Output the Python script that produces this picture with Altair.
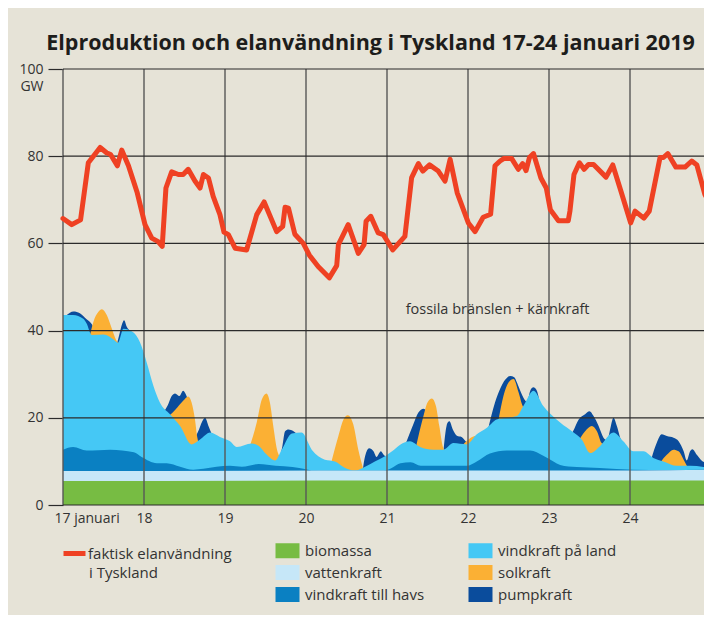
import altair as alt
import pandas as pd

FONT = "Open Sans"
TXT = "#333333"
BG = "#e6e3d7"
RED = "#ef4123"

title_text = "Elproduktion och elanvändning i Tyskland 17-24 januari 2019"
annotation_text = "fossila bränslen + kärnkraft"
demand_label = "faktisk elanvändning"
demand_label_2 = "i Tyskland"

day_ticks = [17, 18, 19, 20, 21, 22, 23, 24, 25]
gw_ticks = [0, 20, 40, 60, 80, 100]

# hours after 17 januari 00:00
demand_h = [0, 2.6, 5.2, 7.5, 9, 11, 12.9, 14.1, 16.1, 17.4, 19.4, 22, 24.3, 26.3, 28.2, 29.4,
            30.5, 32.2, 34.2, 35.6, 37.1, 39.1, 40.6, 41.6, 43.1, 44.5, 46.5, 47.7, 49, 51, 54.4,
            57.4, 59.6, 63.3, 65.1, 65.8, 66.8, 68.7, 71.2, 73, 75.6, 78.9, 81.1, 81.6, 84.5, 87.5,
            89.2, 89.8, 91.2, 93.4, 94.9, 97.7, 101.3, 103.3, 105.3, 106.6, 108.6, 111.2, 113.2,
            114.7, 116.8, 120.1, 122.1, 124.5, 126.7, 128, 129.5, 130.7, 132.9, 134.9, 136.2, 137.2,
            138.2, 139.4, 141.6, 143.2, 144.4, 146.8, 149.7, 150.2, 151.4, 153, 154.4, 155.7, 157.2,
            160.9, 162.9, 165.3, 168.2, 169.5, 172.1, 173.7, 176.9, 177.9, 179.2, 181.6, 184.3,
            186.3, 187.8, 190.2, 192]
demand_gw = [65.7, 64.3, 65.4, 78.5, 80.0, 82.0, 80.8, 80.4, 77.8, 81.4, 77.8, 71.6, 64.3, 61.2,
             60.4, 59.3, 72.7, 76.4, 75.8, 75.8, 77.0, 74.3, 72.7, 75.8, 75.0, 70.8, 66.6, 62.6,
             62.0, 58.9, 58.5, 66.6, 69.5, 62.7, 63.9, 68.3, 68.1, 62.1, 60.0, 57.3, 54.7, 52.1,
             54.9, 59.7, 64.3, 57.7, 59.7, 65.1, 66.2, 62.4, 62.0, 58.5, 61.6, 75.1, 78.3, 76.6,
             78.0, 76.6, 74.3, 79.3, 71.6, 64.7, 62.7, 66.0, 66.7, 77.8, 78.9, 79.5, 79.5, 77.0,
             78.3, 76.7, 79.7, 80.6, 75.0, 72.7, 67.7, 65.2, 65.2, 67.4, 75.8, 78.5, 77.0, 78.1,
             78.1, 75.2, 78.0, 72.0, 64.7, 67.4, 65.8, 67.4, 79.7, 79.7, 80.6, 77.5, 77.5, 78.9,
             78.0, 71.2, 68.8]

# cumulative upper edge (GW) of each layer
bio_h = [0, 96, 192]
bio_gw = [5.5, 5.6, 5.6]

hydro_h = [0, 96, 170, 192]
hydro_gw = [7.8, 7.9, 7.9, 8.1]

off_h = [0, 3, 7, 14, 21, 23.3, 27.8, 30.7, 34.7, 38.6, 41.6, 45.5, 49.5, 53, 58, 63, 68, 72, 74,
         95, 97.4, 100, 103, 106, 112, 119.6, 122.6, 126.5, 131.5, 138.4, 142.3, 145.3, 147.3,
         152.2, 159, 169, 179, 192]
off_gw = [12.7, 13.3, 12.5, 12.7, 12.1, 11.0, 9.6, 9.6, 8.8, 8.1, 8.3, 8.8, 9.0, 8.8, 9.4, 9.0,
          8.7, 8.2, 7.9, 7.9, 8.5, 9.6, 9.8, 9.0, 9.0, 9.0, 10.0, 11.8, 12.5, 12.5, 11.3, 10.0,
          9.2, 8.7, 8.5, 8.1, 8.0, 8.2]

on_h = [0, 3, 6, 7, 8.5, 12, 15.4, 16.3, 17.9, 20.8, 22.8, 24.8, 26.8, 28.7, 31.7, 34.7, 38.1,
        40.6, 43.6, 46.5, 49.5, 51.5, 55.9, 57.9, 60.4, 62.8, 64.8, 67.8, 70.7, 73.7, 77.6, 80.6,
        83.6, 86.5, 89.5, 92.4, 95.4, 97.5, 99.9, 102.8, 105.8, 109.7, 112.7, 115.7, 119.6,
        122.6, 125.6, 128.5, 131.5, 134.5, 136.4, 139.4, 142.3, 144.3, 147.3, 151.3, 153.7,
        156.2, 159.1, 163.1, 166, 169, 172, 174.9, 177.9, 181.9, 185.8, 189.8, 192]
on_gw = [43.6, 43.6, 42.7, 41.6, 39.0, 39.1, 37.7, 37.2, 40.4, 39.6, 37.3, 32.7, 27.3, 23.5, 20.8,
         18.1, 13.9, 15.0, 16.6, 15.6, 14.6, 13.3, 14.1, 13.6, 11.5, 10.2, 12.7, 16.4, 16.6, 12.7,
         10.4, 10.0, 8.5, 7.9, 8.8, 10.0, 11.2, 12.3, 13.8, 14.6, 13.3, 12.7, 12.7, 14.2, 13.9,
         16.2, 17.7, 19.6, 20.0, 20.4, 22.7, 26.2, 22.7, 21.0, 18.9, 16.6, 15.0, 11.9, 13.5,
         16.6, 14.6, 12.3, 12.3, 10.8, 10.0, 9.0, 9.0, 8.7, 8.2]

solar_episodes = [
    ([8.0, 9.0, 10.5, 11.5, 13.0, 14.4, 15.7, 16.4], [39.0, 42.0, 44.3, 44.9, 43.5, 40.6, 37.9, 37.0]),
    ([31.5, 33.2, 35.6, 37.1, 38.1, 39.1, 39.8, 40.5], [20.5, 21.8, 23.9, 24.9, 23.5, 19.6, 15.5, 13.5]),
    ([55.5, 57.4, 58.9, 60.3, 61.3, 62.3, 63.3, 64.4, 65.0], [13.8, 18.9, 24.2, 25.6, 23.5, 18.1, 13.1, 10.8, 10.0]),
    ([79.5, 81.6, 83.1, 84.4, 86.0, 87.5, 89.0], [9.8, 15.8, 19.6, 20.6, 18.5, 12.7, 8.1]),
    ([104.5, 106.8, 108.0, 109.3, 110.5, 111.5, 112.5, 113.2], [13.0, 20.4, 23.5, 24.4, 22.7, 18.1, 13.5, 12.5]),
    ([118.5, 120.8, 123.2], [13.8, 15.4, 16.0]),
    ([129.0, 130.5, 132.0, 133.5, 135.0, 136.2, 137.0], [19.4, 25.0, 28.1, 28.9, 25.8, 22.7, 22.0]),
    ([153.0, 154.7, 156.7, 158.2, 159.6, 160.6], [15.0, 16.9, 18.1, 16.9, 14.2, 13.8]),
    ([177.2, 178.9, 180.9, 182.4, 183.9, 185.0], [10.0, 11.5, 12.7, 12.3, 10.4, 8.8]),
]

pump_episodes = [
    ([1.0, 3.1, 5.0, 7.0, 8.5, 9.5], [43.5, 44.4, 44.0, 42.6, 41.5, 40.0]),
    ([16.0, 16.6, 17.5, 18.1, 18.9, 19.9, 20.8], [37.0, 38.8, 41.5, 42.4, 40.9, 39.9, 39.0]),
    ([30.0, 31.0, 32.2, 33.2, 34.5, 35.6, 36.6, 37.5], [21.5, 22.8, 25.0, 25.6, 25.0, 26.2, 25.0, 23.0]),
    ([39.5, 40.3, 41.1, 42.1, 43.1, 44.1], [16.0, 17.3, 18.9, 20.0, 18.1, 16.2]),
    ([64.3, 65.0, 65.8, 66.8, 68.3, 69.5], [11.0, 13.5, 16.9, 17.3, 16.9, 16.2]),
    ([88.8, 89.5, 90.7, 92.0, 92.9, 94.2, 95.0, 95.8], [8.0, 11.2, 13.0, 12.3, 11.0, 12.3, 11.5, 11.0]),
    ([101.5, 103.8, 105.3, 106.8, 107.8], [14.0, 18.5, 21.2, 22.1, 21.5]),
    ([112.8, 113.3, 113.9, 114.5, 115.5, 116.7, 118.1, 119.6, 120.5], [13.0, 16.5, 18.8, 19.2, 17.3, 15.9, 15.6, 14.4, 14.0]),
    ([126.0, 128.0, 129.5, 131.0, 132.5, 133.7, 134.5, 135.7, 137.0, 137.8], [17.6, 23.5, 26.6, 28.7, 29.6, 29.3, 28.1, 25.8, 23.9, 23.5]),
    ([137.8, 138.6, 139.4, 140.3, 141.4], [24.0, 26.5, 27.0, 26.4, 23.0]),
    ([150.5, 151.5, 152.8, 154.7, 156.0, 157.2, 158.7, 160.1, 161.2], [16.0, 17.5, 19.6, 20.8, 21.5, 20.4, 18.1, 15.5, 14.8]),
    ([161.5, 162.3, 163.1, 164.1, 165.3, 166.3], [15.0, 18.0, 20.0, 18.1, 15.0, 14.0]),
    ([174.4, 175.9, 177.4, 178.9, 180.9, 182.4, 183.9, 184.8, 185.8, 186.5, 187.8, 189.2, 190.7, 192.0],
     [10.8, 14.2, 16.2, 15.8, 15.4, 14.6, 12.3, 10.2, 12.3, 12.8, 11.5, 10.2, 9.6, 9.2]),
]

source_names = ["biomassa", "vattenkraft", "vindkraft till havs", "vindkraft på land", "solkraft", "pumpkraft"]
source_colors = ["#77bc43", "#c6e7f8", "#0a80c2", "#45c8f5", "#fbb034", "#0a4c9c"]

layer_series = {
    "biomassa": [(bio_h, bio_gw)],
    "vattenkraft": [(hydro_h, hydro_gw)],
    "vindkraft till havs": [(off_h, off_gw)],
    "vindkraft på land": [(on_h, on_gw)],
    "solkraft": solar_episodes,
    "pumpkraft": pump_episodes,
}

rows = []
for name, episodes in layer_series.items():
    for seg, (hs, vs) in enumerate(episodes):
        for h, v in zip(hs, vs):
            rows.append({"source": name, "seg": seg, "h": h, "gw": v})
gen = pd.DataFrame(rows)

dem = pd.DataFrame({"h": demand_h, "gw": demand_gw, "serie": demand_label})

PLOT_W = 641          # the page only shows up to about 24.9 januari
PX_PER_DAY = 81
xs = alt.Scale(domain=[17, 17 + PLOT_W / PX_PER_DAY], nice=False, zero=False)
ys = alt.Scale(domain=[0, 100], nice=False)

x_axis = alt.Axis(
    values=day_ticks, title=None, ticks=False, domain=False, grid=False,
    labelFont=FONT, labelFontSize=14, labelColor=TXT, labelPadding=6,
    labelFlush=False, labelOverlap=False,
    labelExpr="datum.value == 17 ? '17 januari' : datum.label",
    labelAlign={"condition": {"test": "datum.value == 17", "value": "left"}, "value": "center"},
    labelOffset={"condition": {"test": "datum.value == 17", "value": -9}, "value": 0},
)
y_axis = alt.Axis(
    values=gw_ticks, title="GW", titleAngle=0, titleX=-20, titleY=17.5, titleAlign="right",
    titleBaseline="middle", titleFont=FONT, titleFontSize=14, titleFontWeight="normal",
    titleColor=TXT, ticks=True, tickSize=15, tickColor="#2b2b2b", tickWidth=1.2,
    domain=False, grid=False, labelFont=FONT, labelFontSize=14, labelColor=TXT, labelPadding=5,
)

fill_legend = alt.Legend(
    title=None, orient="none", legendX=217, legendY=474, columns=2, padding=0,
    symbolType="M-1.6,-1H1.6V1H-1.6Z", symbolSize=225, symbolStrokeWidth=0, symbolOpacity=1,
    labelFont=FONT, labelFontSize=15, labelColor=TXT, labelOffset=10,
    rowPadding=6, columnPadding=43,
)
line_legend = alt.Legend(
    title=None, orient="none", legendX=-2, legendY=471, padding=0,
    symbolType="stroke", symbolStrokeWidth=5, symbolSize=484,
    labelFont=FONT, labelFontSize=15, labelColor=TXT, labelOffset=0,
)

fill_enc = alt.Fill(
    "source:N",
    scale=alt.Scale(domain=source_names, range=source_colors),
    legend=fill_legend,
)

draw_order = ["pumpkraft", "solkraft", "vindkraft på land", "vindkraft till havs", "vattenkraft", "biomassa"]
area_layers = []
for src in draw_order:
    area_layers.append(
        alt.Chart(gen)
        .transform_filter(alt.datum.source == src)
        .transform_calculate(day="17 + datum.h / 24")
        .mark_area(interpolate="monotone", opacity=1)
        .encode(
            x=alt.X("day:Q", scale=xs, axis=x_axis),
            y=alt.Y("gw:Q", scale=ys, axis=y_axis, stack=None),
            fill=fill_enc,
            detail="seg:N",
        )
    )

vrules = alt.Chart(pd.DataFrame({"day": day_ticks})).mark_rule(color="#575757", strokeWidth=1.4).encode(
    x=alt.X("day:Q", scale=xs, axis=x_axis)
)
hrules = alt.Chart(pd.DataFrame({"gw": gw_ticks})).mark_rule(color="#2b2b2b", strokeWidth=1.2).encode(
    y=alt.Y("gw:Q", scale=ys, axis=y_axis)
)

line = (
    alt.Chart(dem)
    .transform_calculate(day="17 + datum.h / 24")
    .mark_line(strokeWidth=5, strokeJoin="round", strokeCap="round")
    .encode(
        x=alt.X("day:Q", scale=xs, axis=x_axis),
        y=alt.Y("gw:Q", scale=ys, axis=y_axis),
        stroke=alt.Stroke("serie:N", scale=alt.Scale(domain=[demand_label], range=[RED]), legend=line_legend),
    )
)

annot = alt.Chart(pd.DataFrame({"day": [21.23], "gw": [44.8], "t": [annotation_text]})).mark_text(
    align="left", baseline="middle", font=FONT, fontSize=14.5, color=TXT
).encode(
    x=alt.X("day:Q", scale=xs, axis=x_axis),
    y=alt.Y("gw:Q", scale=ys, axis=y_axis),
    text="t:N",
)

second_line = alt.Chart(pd.DataFrame({"t": [demand_label_2]})).mark_text(
    align="left", baseline="middle", font=FONT, fontSize=15, color=TXT
).encode(x=alt.value(26), y=alt.value(504), text="t:N")

chart = (
    alt.layer(*area_layers, vrules, hrules, line, annot, second_line)
    .properties(
        width=PLOT_W,
        height=436,
        padding={"left": 55, "top": 61, "right": 0, "bottom": 110},
        autosize=alt.AutoSizeParams(type="none"),
        title=alt.TitleParams(
            title_text, font=FONT, fontSize=21.5, fontWeight="bold", color="#1d1d1b",
            anchor="middle", frame="group", dx=-13, offset=8,
        ),
    )
    .configure(background=BG)
    .configure_view(stroke=None)
)

chart.save("out.html", embed_options={"renderer": "svg", "actions": False})
